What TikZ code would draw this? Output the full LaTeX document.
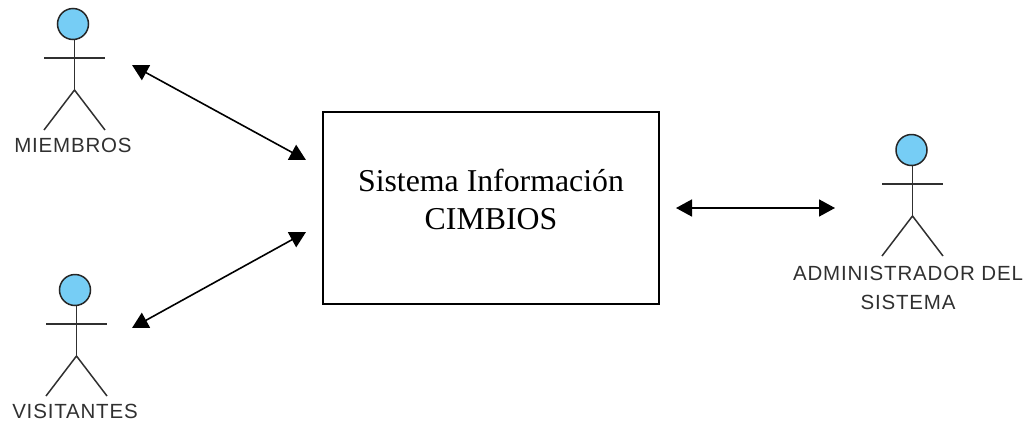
\documentclass[tikz,border=0pt]{standalone}
\usepackage{fontspec}
\setmainfont{Liberation Serif}
\newfontfamily\labelfont[LetterSpace=4]{Liberation Sans}
\usetikzlibrary{arrows.meta}
\definecolor{headblue}{HTML}{76CDF5}
\definecolor{labelgray}{HTML}{303030}
\definecolor{limbgray}{HTML}{303030}
\tikzset{
  x=1pt,y=-1pt,
  head/.style={circle,draw=black!85,fill=headblue,line width=1.5pt,minimum size=31pt,inner sep=0pt},
  limb/.style={draw=limbgray,line width=1.5pt},
  actorlabel/.style={font=\labelfont\fontsize{20.5}{29.5}\selectfont,text=labelgray,align=center,inner sep=0pt},
  sysbox/.style={draw=black,line width=1.3pt,minimum width=336pt,minimum height=192pt,inner sep=0pt},
  systext/.style={font=\fontsize{31.8}{38}\selectfont,align=center,inner sep=0pt},
  link/.style={draw=black,line width=1.6pt,{Triangle[length=16pt,width=17pt]}-{Triangle[length=16pt,width=17pt]}},
}
\newcommand{\actorfig}[4]{% name, body x, head centre y, head centre x
  \coordinate (#1neck) at (#2,#3+16);
  \coordinate (#1hip) at (#2,#3+66);
  \coordinate (#1arml) at (#2-30.5,#3+34);
  \coordinate (#1armr) at (#2+30.5,#3+34);
  \coordinate (#1feetl) at (#2-30.5,#3+106);
  \coordinate (#1feetr) at (#2+30.5,#3+106);
  \draw[limb] (#1neck) -- (#1hip);
  \draw[limb] (#1arml) -- (#1armr);
  \draw[limb] (#1feetl) -- (#1hip) -- (#1feetr);
  \node[head] (#1head) at (#4,#3) {};
}
\begin{document}
\begin{tikzpicture}
\useasboundingbox (0,0) rectangle (1029,421);
\actorfig{a}{74.5}{24}{73}
\actorfig{b}{76.5}{290}{75}
\actorfig{c}{912.5}{150}{911.5}
\node[actorlabel] (mlabel) at (73,145) {MIEMBROS};
\node[actorlabel] (vlabel) at (75,411) {VISITANTES};
\node[actorlabel] (alabel) at (908,288) {ADMINISTRADOR DEL\\SISTEMA};
\node[sysbox] (sys) at (491,208) {};
\node[systext] (systxt) at (491,199) {Sistema Información\\CIMBIOS};
\coordinate (m1) at (132,65);
\coordinate (m2) at (306,160);
\coordinate (v1) at (132,328);
\coordinate (v2) at (306,232);
\coordinate (a1) at (676,208);
\coordinate (a2) at (835,208);
\draw[link] (m1) -- (m2);
\draw[link] (v1) -- (v2);
\draw[link] (a1) -- (a2);
\end{tikzpicture}
\end{document}
